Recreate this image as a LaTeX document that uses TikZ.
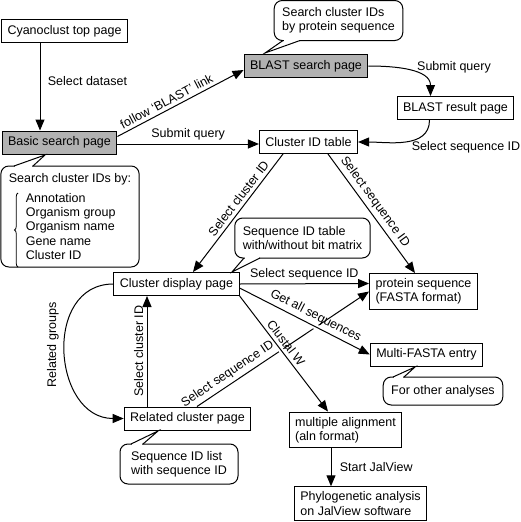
\documentclass[tikz,border=0pt]{standalone}
\usepackage{fontspec}
\setmainfont{Liberation Sans}
\usetikzlibrary{arrows.meta}
\usetikzlibrary{decorations.pathreplacing}

\tikzset{
    page/.style={draw, line width=1pt, inner xsep=6pt, inner ysep=5pt, minimum height=23pt, align=left},
    greypage/.style={page, fill=gray!60},
    note/.style={draw, line width=1pt, fill=white, rounded corners=8pt, inner xsep=8pt, inner ysep=7pt, align=left},
    link/.style={line width=1pt, -{Triangle[length=11pt,width=9pt]}},
    cutgap/.style={draw=white, line width=5pt, shorten <=30pt, shorten >=30pt},
}

\begin{document}
\begin{tikzpicture}[x=1pt, y=-1pt, font=\fontsize{12.5}{14.3}\selectfont]
    \useasboundingbox (0,0) rectangle (520,522);

    % pages
    \node[page] (top) at (64.5,31) {Cyanoclust top page};
    \node[greypage] (basic) at (59.5,142.5) {Basic search page};
    \node[greypage] (blast) at (306,66) {BLAST search page};
    \node[page] (result) at (455.5,108) {BLAST result page};
    \node[page] (idtable) at (308.5,142) {Cluster ID table};
    \node[page] (display) at (176.5,284) {Cluster display page};
    \node[page] (protein) at (423.5,291.5) {protein sequence\\(FASTA format)};
    \node[page] (multi) at (426.5,354.5) {Multi-FASTA entry};
    \node[page] (related) at (187.5,418.5) {Related cluster page};
    \node[page] (alignment) at (345.5,430) {multiple alignment\\(aln format)};
    \node[page] (phylo) at (360.5,503.5) {Phylogenetic analysis\\on JalView software};

    % notes with their tails
    \node[note, minimum height=40pt] (blastnote) at (338.5,20.5) {Search cluster IDs\\by protein sequence};
    \fill[white] (283.6,39) rectangle (299.4,42);
    \draw[line width=1pt] (283,40.5) -- (265,53) -- (300,40.5);

    \node[note, minimum width=138pt, minimum height=101pt] (basicnote) at (70,216.5) {Search cluster IDs by:\\[5.7pt]
        \hspace*{17pt}Annotation\\ \hspace*{17pt}Organism group\\ \hspace*{17pt}Organism name\\
        \hspace*{17pt}Gene name\\ \hspace*{17pt}Cluster ID};
    \draw[line width=0.8pt, decorate, decoration={brace, amplitude=3.5pt}] (18,267) -- (18,193);
    \fill[white] (14.6,164.5) rectangle (32.4,167.5);
    \draw[line width=1pt] (14,166) -- (45,155) -- (33,166);

    \node[note, minimum height=40pt] (seqnote) at (302.5,238) {Sequence ID table\\with/without bit matrix};
    \fill[white] (244.6,256.5) rectangle (259.4,259.5);
    \draw[line width=1pt] (244,258) -- (232,272) -- (260,258);

    \node[note, minimum height=28pt] (othernote) at (443,391) {For other analyses};
    \fill[white] (393.6,375.5) rectangle (403.4,378.5);
    \draw[line width=1pt] (393,377) -- (415,367) -- (404,377);

    \node[note, minimum width=118pt, minimum height=40pt] (listnote) at (179,464) {Sequence ID list\\with sequence ID};
    \fill[white] (131.6,442.5) rectangle (142.4,445.5);
    \draw[line width=1pt] (131,444) -- (158,431) -- (143,444);

    % links from the search pages
    \draw[link] ([xshift=-24.5pt]top.south) -- node[pos=0.44, right=4pt] (dataset) {Select dataset} ([xshift=-19.5pt]basic.north);
    \draw[link] ([yshift=6pt]basic.east) -- node[pos=0.42, sloped, above] (blastlink) {follow ‘BLAST’ link} ([yshift=-4pt]blast.west);
    \draw[link] ([yshift=-1.5pt]basic.east) -- node[above] (submitone) {Submit query} ([yshift=-2pt]idtable.west);
    \draw[link] (blast.east) to[out=0, in=90] ([xshift=-25pt]result.north);
    \node (submittwo) at (454,67) {Submit query};
    \draw[link] ([xshift=-26pt]result.south) to[out=-90, in=0] (idtable.east);
    \node (selectone) at (466,147) {Select sequence ID};

    % links from the cluster ID table
    \draw[link] ([xshift=-25.5pt]idtable.south) -- node[pos=0.42, sloped, above] (clusterone) {Select cluster ID} ([xshift=16.5pt]display.north);
    \draw[link] ([xshift=19.5pt]idtable.south) -- node[pos=0.45, sloped, above] (selecttwo) {Select sequence ID} ([xshift=-8.5pt]protein.north);

    % links from the cluster display page
    \draw[link] (display.east) -- node[above] (selectthree) {Select sequence ID} ([yshift=8pt]protein.west);
    \draw[link] ([xshift=9.5pt]related.north) -- node[pos=0.21, sloped, above] (selectfour) {Select sequence ID} (protein.west);
    \draw[cutgap] ([yshift=-4pt]display.east) -- (multi.west);
    \draw[cutgap] (display.south east) -- ([xshift=-17.5pt]alignment.north);
    \draw[link] ([yshift=-4pt]display.east) -- node[pos=0.55, sloped, above] (getall) {Get all sequences} (multi.west);
    \draw[link] (display.south east) -- node[pos=0.45, sloped, above] (clustal) {Clustal W} ([xshift=-17.5pt]alignment.north);
    \draw[link] ([xshift=-14.5pt]alignment.south) -- node[right=5pt] (jalview) {Start JalView} ([xshift=-29.5pt]phylo.north);

    % related groups
    \draw[link] ([xshift=-40.5pt]related.north) -- node[sloped, above] (clustertwo) {Select cluster ID} ([xshift=-29.5pt]display.south);
    \draw[link] (display.west) to[out=180, in=180, looseness=1.35] (related.west);
    \node[rotate=90] (groups) at (53,345) {Related groups};
\end{tikzpicture}
\end{document}
